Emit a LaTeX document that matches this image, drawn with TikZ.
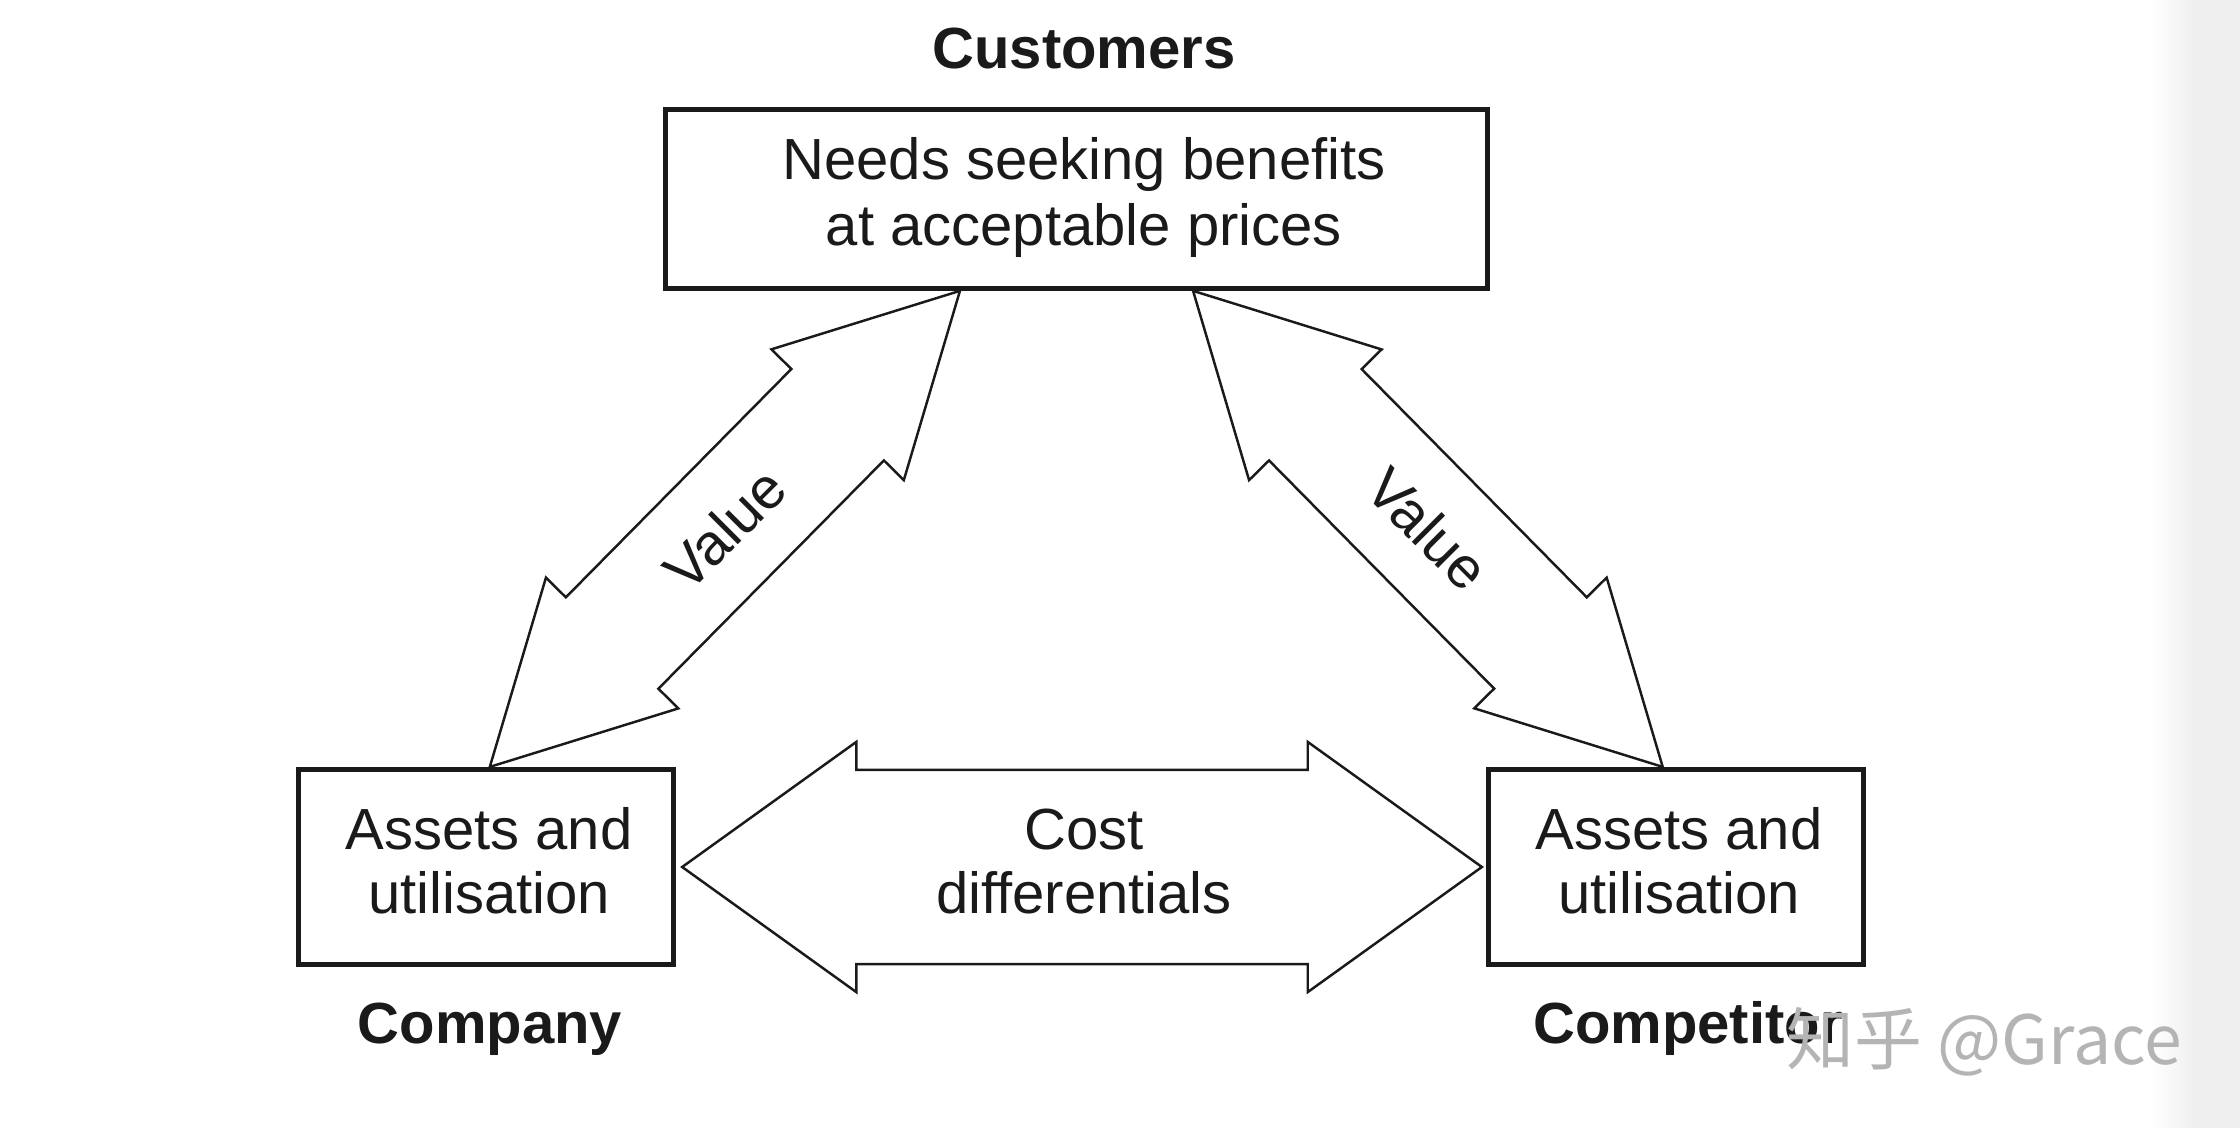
\documentclass[tikz,border=0pt]{standalone}
\usepackage{fontspec}
\setmainfont{Liberation Sans}
\newfontfamily\cjkwm{Noto Sans CJK SC}
\usetikzlibrary{calc}
\definecolor{ink}{HTML}{1A1A1A}
\definecolor{wmgray}{HTML}{B4B4B4}
\definecolor{edgegray}{HTML}{EFEFEF}
% #1 end A, #2 end B, #3 head length, #4 head half width, #5 shaft half width
\newcommand\blockdbl[5]{%
  \draw[blk] (#1)
    -- ($(#1)!#3!(#2)!#4!90:(#2)$)
    -- ($(#1)!#3!(#2)!#5!90:(#2)$)
    -- ($(#2)!#3!(#1)!#5!-90:(#1)$)
    -- ($(#2)!#3!(#1)!#4!-90:(#1)$)
    -- (#2)
    -- ($(#2)!#3!(#1)!#4!90:(#1)$)
    -- ($(#2)!#3!(#1)!#5!90:(#1)$)
    -- ($(#1)!#3!(#2)!#5!-90:(#2)$)
    -- ($(#1)!#3!(#2)!#4!-90:(#2)$)
    -- cycle;}
\begin{document}
\begin{tikzpicture}[x=0.01cm,y=-0.01cm,
  box/.style={draw=ink, line width=1.45pt, inner sep=0pt, fill=white},
  blk/.style={draw=ink, line width=0.7pt, line join=miter, fill=white},
  lbl/.style={font=\fontsize{16.5}{19}\selectfont, text=ink, inner sep=0pt},
  bold/.style={font=\fontsize{16.5}{19}\selectfont\bfseries, text=ink, inner sep=0pt}]
\useasboundingbox[fill=white] (0,0) rectangle (2240,1128);
\shade[left color=white, right color=edgegray] (2150,0) rectangle (2195,1128);
\fill[edgegray] (2195,0) rectangle (2240,1128);

\node[box, minimum width=8.21cm, minimum height=1.785cm] (tbox) at (1076.5,199) {};
\node[box, minimum width=3.75cm, minimum height=1.95cm] (lbox) at (486,867) {};
\node[box, minimum width=3.75cm, minimum height=1.95cm] (rbox) at (1676,867) {};

\coordinate (lA) at ($(lbox.north west)!0.51!(lbox.north east)$);
\coordinate (lB) at ($(tbox.south west)!0.359!(tbox.south east)$);
\coordinate (rA) at ($(tbox.south west)!0.641!(tbox.south east)$);
\coordinate (rB) at ($(rbox.north west)!0.465!(rbox.north east)$);
\coordinate (cA) at ($(lbox.east)+(6,0)$);
\coordinate (cB) at ($(rbox.west)+(-4,0)$);

\blockdbl{lA}{lB}{1.74cm}{0.93cm}{0.65cm}
\blockdbl{rA}{rB}{1.74cm}{0.93cm}{0.65cm}
\blockdbl{cA}{cB}{1.74cm}{1.25cm}{0.97cm}

\node[lbl, rotate=45] (v1) at ($(lA)!0.5!(lB)$) {Value};
\node[lbl, rotate=-45] (v2) at ($(rA)!0.5!(rB)$) {Value};

\node[bold, anchor=base] (cust) at (1084,69) {Customers};
\node[lbl, anchor=base] (t1) at (1084,180) {Needs seeking benefits};
\node[lbl, anchor=base] (t2) at (1084,246) {at acceptable prices};
\node[lbl, anchor=base] (l1) at (489,849) {Assets and};
\node[lbl, anchor=base] (l2) at (489,913) {utilisation};
\node[lbl, anchor=base] (r1) at (1679,849) {Assets and};
\node[lbl, anchor=base] (r2) at (1679,913) {utilisation};
\node[lbl, anchor=base] (c1) at (1084,849) {Cost};
\node[lbl, anchor=base] (c2) at (1084,913) {differentials};
\node[bold, anchor=base] (comp) at (490,1043) {Company};
\node[bold, anchor=base] (compt) at (1688,1043) {Competitor};
\node[anchor=base west, text=wmgray, font=\cjkwm\fontsize{19.3}{22}\selectfont, inner sep=0pt] (wm) at (1786,1064) {知乎 @Grace};
\end{tikzpicture}
\end{document}
